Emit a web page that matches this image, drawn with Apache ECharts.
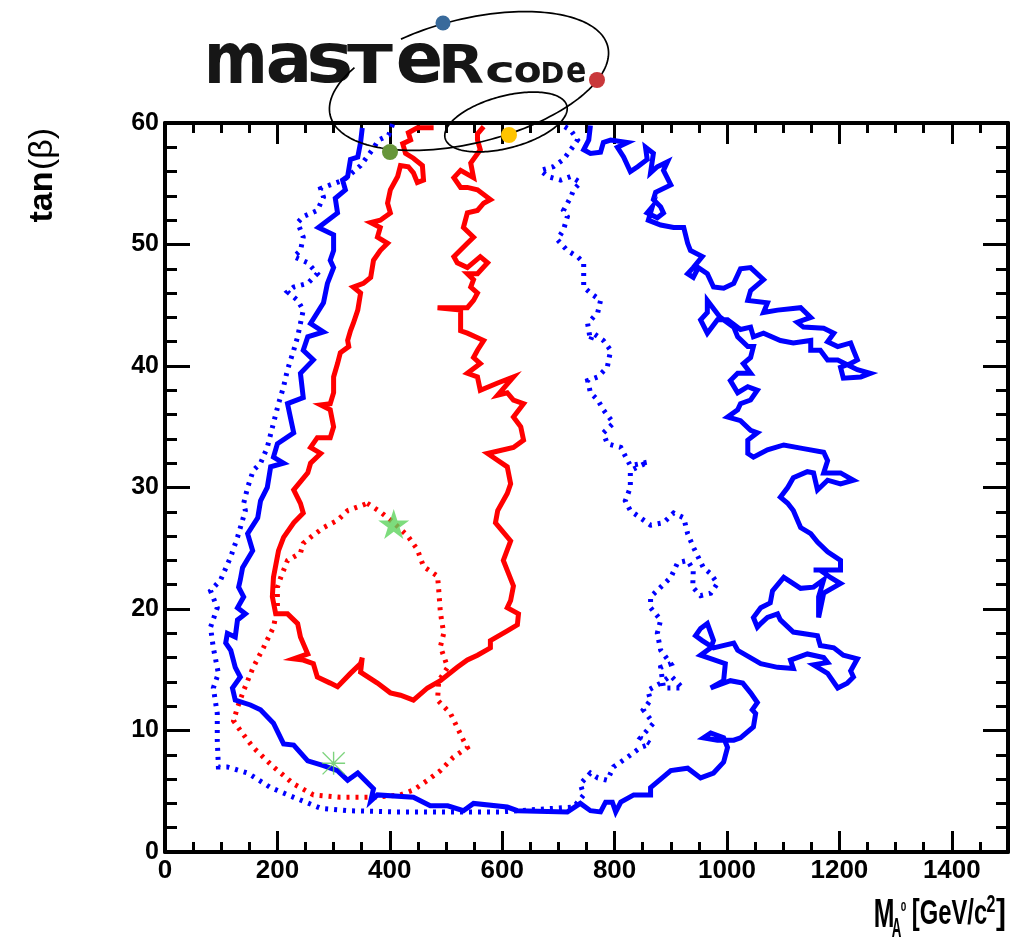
<!DOCTYPE html>
<html><head><meta charset="utf-8">
<script src="https://cdn.jsdelivr.net/npm/echarts/dist/echarts.min.js"></script>
<style>html,body{margin:0;padding:0;background:#fff}#chart{width:1025px;height:943px}</style>
</head><body><div id="chart"></div>
<script>
// ---------------- DATA (M_A [GeV], tan(beta)) ----------------
const blueDotted = [[405,59.9],[398,59.0],[380,58.6],[369,57.8],[348,56.5],[318,55.3],[294,54.9],[277,54.6],[282,53.9],[271,52.8],[246,52.3],[236,51.8],[246,50.6],[241,49.5],[229,49.0],[254,48.5],[271,47.6],[254,46.8],[229,46.5],[218,46.1],[236,45.4],[246,44.6],[241,43.5],[236,42.4],[229,41.3],[218,39.7],[211,38.3],[202,36.9],[193,35.3],[182,33.3],[170,32.0],[157,31.4],[147,30.0],[140,28.7],[143,28.1],[129,25.9],[117,24.3],[99,22.4],[81,21.5],[93,20.1],[81,18.5],[86,16.8],[95,14.7],[86,13.5],[93,11.4],[93,9.2],[95,7.0],[111,7.0],[147,6.5],[188,5.3],[229,4.5],[277,3.6],[325,3.4],[407,3.3],[503,3.3],[597,3.3],[727,3.7],[745,4.7],[739,5.6],[757,6.5],[770,6.1],[787,5.9],[798,7.0],[823,7.8],[846,8.6],[864,8.9],[846,9.4],[869,10.6],[851,11.7],[864,12.5],[859,13.3],[882,13.9],[900,14.5],[921,13.5],[887,13.5],[882,15.2],[900,15.5],[882,16.6],[876,18.0],[882,19.1],[864,20.1],[864,21.0],[882,21.8],[900,22.6],[912,23.8],[930,24.0],[940,23.2],[939,21.8],[953,21.1],[971,21.3],[983,22.1],[971,22.9],[958,23.4],[940,25.1],[930,26.2],[923,27.5],[905,27.9],[887,27.1],[864,26.9],[846,27.5],[828,28.1],[819,28.9],[828,30.0],[828,31.4],[860,32.1],[828,31.8],[811,33.3],[787,33.6],[780,34.5],[798,35.3],[780,36.4],[770,37.2],[757,37.8],[752,38.8],[770,39.1],[787,39.9],[793,41.3],[780,42.1],[762,42.7],[757,42.1],[752,43.5],[770,44.4],[775,45.4],[757,46.0],[745,46.5],[745,47.6],[745,48.5],[734,49.0],[716,49.5],[698,50.4],[709,51.2],[716,52.3],[709,52.8],[722,53.9],[727,54.5],[739,55.1],[722,55.6],[704,55.3],[681,55.6],[668,56.1],[691,56.4],[709,57.0],[722,57.8],[734,58.6],[722,59.4],[704,59.9]];

const redDotted = [[360,28.7],[383,28.0],[407,27.1],[432,26.0],[449,24.9],[460,23.5],[485,22.7],[487,21.6],[490,19.7],[496,18.0],[490,16.9],[503,15.2],[487,14.1],[485,12.5],[508,11.4],[531,9.2],[538,8.6],[513,7.8],[490,6.7],[467,5.9],[442,5.1],[419,4.7],[371,4.5],[312,4.5],[264,4.7],[229,5.6],[193,7.0],[157,8.6],[134,10.0],[122,10.8],[129,11.9],[140,13.3],[157,15.2],[175,16.8],[193,18.5],[200,20.1],[200,21.8],[206,22.6],[218,24.0],[241,24.6],[246,25.4],[259,25.9],[282,26.7],[307,27.3],[325,28.1],[343,28.4],[360,28.7]];

const blueSolid = [[351,59.6],[348,58.4],[343,57.2],[330,57.0],[325,55.6],[316,55.3],[321,54.5],[303,53.8],[307,52.6],[273,51.4],[300,50.8],[300,49.5],[294,48.7],[300,48.1],[289,46.8],[282,45.2],[259,43.5],[282,42.8],[254,42.4],[246,41.3],[264,40.5],[241,39.4],[246,37.4],[218,36.9],[223,35.8],[229,34.5],[200,33.6],[193,32.5],[211,32.0],[188,31.7],[182,30.0],[170,28.9],[165,27.5],[147,26.2],[156,24.8],[138,23.4],[134,22.4],[131,21.8],[140,21.0],[129,20.1],[143,19.6],[129,19.1],[125,17.7],[111,18.0],[108,17.2],[117,16.6],[125,15.2],[134,14.4],[120,13.5],[125,12.5],[152,12.1],[170,11.7],[193,10.6],[211,8.9],[229,8.8],[254,7.5],[282,7.1],[307,6.7],[325,5.9],[343,6.5],[371,5.2],[366,4.2],[378,4.7],[442,4.5],[472,3.8],[503,3.8],[531,3.4],[549,4.0],[609,3.7],[627,3.4],[716,3.3],[739,4.0],[757,3.4],[775,3.3],[784,4.1],[796,4.1],[802,3.3],[811,4.1],[834,4.7],[864,4.7],[864,5.3],[900,6.7],[930,6.9],[953,6.1],[976,6.5],[994,7.4],[1001,8.6],[994,9.4],[971,9.8],[958,9.4],[983,9.2],[1012,9.2],[1024,9.4],[1047,10.3],[1051,11.4],[1045,11.7],[1054,12.3],[1042,13.1],[1028,13.9],[1006,14.1],[971,13.5],[994,14.1],[997,15.5],[953,16.2],[971,16.8],[976,17.4],[965,18.8],[953,18.4],[944,17.8],[956,17.4],[976,16.8],[1012,17.2],[1019,16.6],[1060,15.5],[1090,15.2],[1118,15.1],[1113,15.8],[1143,16.3],[1172,16.0],[1179,15.6],[1154,15.4],[1179,14.7],[1197,13.5],[1214,13.9],[1225,14.4],[1220,14.9],[1232,15.9],[1207,16.2],[1190,16.8],[1166,17.0],[1161,17.8],[1118,18.1],[1095,19.1],[1090,19.6],[1072,19.3],[1060,18.8],[1054,18.5],[1047,19.3],[1060,20.1],[1077,20.5],[1081,21.5],[1101,22.6],[1131,21.7],[1154,21.8],[1172,22.4],[1163,21.0],[1163,19.3],[1172,21.3],[1202,22.1],[1184,22.6],[1166,23.2],[1154,23.2],[1202,23.2],[1202,24.0],[1179,24.7],[1161,25.5],[1149,26.2],[1131,26.7],[1118,28.1],[1108,28.7],[1095,29.2],[1108,30.0],[1118,30.8],[1143,31.3],[1154,31.2],[1161,29.8],[1179,30.6],[1202,30.3],[1225,30.6],[1202,31.2],[1172,31.2],[1179,32.2],[1172,32.9],[1136,33.2],[1101,33.5],[1072,33.1],[1047,32.5],[1037,32.8],[1037,33.9],[1054,34.5],[1042,34.7],[1024,35.5],[1001,35.8],[1019,36.4],[1024,36.9],[1042,37.2],[1054,38.0],[1037,38.3],[1019,37.8],[1006,38.8],[1019,39.4],[1042,39.4],[1029,40.2],[1042,40.7],[1047,41.6],[1037,41.6],[1019,42.4],[1012,43.2],[988,44.0],[965,45.4],[965,44.4],[953,43.8],[965,42.7],[983,43.8],[1001,43.8],[1024,43.0],[1042,43.2],[1047,42.4],[1065,42.7],[1095,42.1],[1118,41.9],[1149,42.1],[1149,41.3],[1166,41.3],[1179,40.5],[1197,40.5],[1232,39.7],[1255,39.4],[1238,39.1],[1207,39.0],[1202,39.9],[1220,40.2],[1232,40.5],[1225,41.3],[1220,41.9],[1197,41.6],[1179,42.0],[1190,42.7],[1172,43.1],[1136,43.2],[1125,43.6],[1149,44.0],[1131,44.8],[1090,44.6],[1065,44.4],[1072,45.2],[1037,45.4],[1042,46.2],[1065,47.1],[1042,48.1],[1024,48.0],[1012,46.8],[994,46.4],[976,46.5],[965,47.6],[949,48.1],[940,47.3],[930,47.6],[940,48.1],[956,49.0],[935,49.5],[930,50.1],[923,51.4],[905,51.4],[882,51.6],[860,52.0],[867,53.1],[858,52.6],[876,52.2],[887,52.6],[882,53.1],[869,53.7],[873,54.3],[900,54.9],[887,56.1],[894,56.8],[876,56.4],[864,55.9],[869,57.5],[855,58.0],[858,57.0],[841,56.4],[828,56.0],[816,57.2],[805,58.0],[823,58.4],[793,58.6],[780,58.4],[775,57.6],[757,57.5],[745,57.8],[754,58.6],[757,59.8]];

const redSolid = [[478,59.6],[449,59.6],[433,59.2],[437,58.6],[423,58.3],[428,57.5],[442,57.1],[458,56.5],[460,55.3],[449,55.1],[442,55.9],[433,56.4],[419,56.5],[414,55.6],[401,54.5],[396,53.4],[401,52.6],[383,52.0],[366,51.8],[383,51.4],[378,50.6],[396,50.1],[383,49.5],[371,48.7],[366,47.3],[353,46.8],[335,46.5],[348,46.0],[343,44.6],[335,43.5],[330,42.9],[325,42.1],[327,41.6],[312,41.1],[307,40.2],[300,39.1],[300,37.8],[294,36.9],[277,36.8],[294,36.4],[300,35.0],[294,34.1],[271,34.1],[259,33.3],[277,32.8],[259,32.0],[254,31.2],[229,29.8],[241,28.7],[246,27.9],[229,27.1],[211,25.9],[202,24.8],[193,22.6],[191,21.0],[197,19.6],[218,19.6],[236,18.8],[241,17.7],[254,16.3],[229,15.9],[246,15.8],[264,15.5],[271,14.4],[294,13.9],[307,13.6],[330,14.7],[348,15.5],[351,16.0],[348,14.8],[378,13.9],[401,13.1],[419,12.9],[442,12.5],[467,13.5],[490,14.1],[520,15.2],[538,15.8],[556,16.2],[579,16.8],[579,17.4],[609,18.2],[627,18.7],[629,19.6],[609,20.1],[615,20.7],[620,21.9],[602,24.0],[615,25.6],[588,27.1],[592,28.1],[609,29.5],[615,30.3],[609,31.7],[574,32.8],[620,33.3],[638,33.9],[633,35.0],[620,35.8],[638,36.9],[620,37.2],[609,37.8],[592,37.6],[620,39.1],[592,38.6],[561,38.0],[556,39.1],[538,39.4],[561,40.2],[549,40.7],[556,41.3],[567,42.1],[538,42.7],[526,42.9],[526,44.6],[485,44.8],[514,44.8],[538,44.8],[549,45.4],[556,46.0],[544,46.5],[549,47.1],[538,47.6],[556,47.6],[574,48.5],[561,49.0],[538,48.1],[520,48.5],[514,49.0],[538,50.1],[549,50.6],[531,51.4],[538,52.6],[556,52.8],[567,53.4],[579,53.7],[556,54.5],[538,54.7],[526,54.7],[514,55.5],[526,56.1],[549,55.5],[544,56.7],[561,57.8],[556,58.6],[556,59.1],[567,59.7]];

const bestFitPoint = [[407, 27.0]];
const secondPoint = [[300, 7.3]];

const xMajorStep = 200, xMinorStep = 50;
const yMajorStep = 10;

// ---------------- CHART ----------------
const chart = echarts.init(document.getElementById('chart'), null, {renderer: 'canvas'});
const BLK = '#000';
const FONT = 'Liberation Sans';

function xAx(pos, step, len, showLine, showLabel) {
  return {
    type: 'value', position: pos, min: 0, max: 1500, interval: step,
    axisLine: {show: showLine, onZero: false, lineStyle: {color: BLK, width: 4}},
    axisTick: {show: true, inside: true, length: len, lineStyle: {color: BLK, width: 3}},
    axisLabel: {show: showLabel, margin: 6, color: BLK, fontFamily: FONT, fontWeight: 'bold', fontSize: 26,
      formatter: v => (v % xMajorStep === 0 ? String(v) : '')},
    splitLine: {show: false}
  };
}
function yAx(pos, showLabel) {
  return {
    type: 'value', position: pos, min: 0, max: 60, interval: yMajorStep,
    axisLine: {show: true, onZero: false, lineStyle: {color: BLK, width: 4}},
    axisTick: {show: true, inside: true, length: 25, lineStyle: {color: BLK, width: 3}},
    minorTick: {show: true, splitNumber: 5, length: 12, lineStyle: {color: BLK, width: 3}},
    axisLabel: {show: showLabel, margin: 6, color: BLK, fontFamily: FONT, fontWeight: 'bold', fontSize: 25},
    splitLine: {show: false}, minorSplitLine: {show: false}
  };
}

// ---- decoration helpers (logo & titles) ----
const mctx = document.createElement('canvas').getContext('2d');
function fitText(txt, font, box, fill) {
  mctx.font = font; mctx.textAlign = 'left'; mctx.textBaseline = 'middle';
  const m = mctx.measureText(txt);
  const L = m.actualBoundingBoxLeft, R = m.actualBoundingBoxRight;
  const A = m.actualBoundingBoxAscent, D = m.actualBoundingBoxDescent;
  const sx = (box[1] - box[0]) / (L + R), sy = (box[3] - box[2]) / (A + D);
  return {type: 'text', x: box[0] + L * sx, y: box[2] + A * sy, scaleX: sx, scaleY: sy, z: 100, silent: true,
    style: {text: txt, x: 0, y: 0, font: font, fill: fill, align: 'left', verticalAlign: 'middle',
      textAlign: 'left', textVerticalAlign: 'middle'}};
}
function ellipsePts(cx, cy, a, b, rotDeg, t0, t1) {
  const th = rotDeg * Math.PI / 180;
  const ux = Math.cos(th), uy = -Math.sin(th), vx = Math.sin(th), vy = Math.cos(th);
  const pts = [];
  for (let t = t0; t <= t1 + 0.001; t += 2) {
    const r = t * Math.PI / 180, c = Math.cos(r) * a, s = Math.sin(r) * b;
    pts.push([cx + c * ux + s * vx, cy + c * uy + s * vy]);
  }
  return pts;
}

const logoFont = 'bold 60px "DejaVu Sans"';
const logoGlyphs = [
  ['m', [208, 263, 43, 83]], ['a', [268, 307, 43, 83]], ['s', [310, 350, 43, 83]],
  ['T', [347, 393, 43, 83]], ['e', [398, 440, 43, 83]], ['R', [443, 483, 43, 83]],
  ['c', [487, 512, 62, 83]], ['o', [515, 540, 62, 83]], ['D', [543, 563, 62, 83]], ['e', [567, 585, 62, 83]]
];
const titleFont = 'bold 40px "Liberation Sans"';
const xTitleParts = [
  ['M', [875, 893, 898, 927]], ['A', [892, 901, 917, 937]], ['0', [901, 906, 902, 911]],
  ['[GeV/c', [913, 987, 897, 931]], ['2', [987, 995, 895, 912]], [']', [996, 1005, 897, 931]]
];

const graphics = [];
logoGlyphs.forEach(g => graphics.push(fitText(g[0], logoFont, g[1], '#161616')));
graphics.push({type: 'polyline', z: 101, silent: true, shape: {points: ellipsePts(469, 81, 143, 62, 14, 247, 582)},
  style: {stroke: '#000', lineWidth: 1.7, fill: 'none'}});
graphics.push({type: 'polyline', z: 101, silent: true, shape: {points: ellipsePts(506, 122, 63, 26, 15, 0, 360)},
  style: {stroke: '#000', lineWidth: 1.7, fill: 'none'}});
[[443, 23, 7.5, '#386a9b'], [597, 80, 8, '#c9383a'], [390, 152, 8, '#67963a'], [509, 135, 8, '#ffc400']].forEach(d =>
  graphics.push({type: 'circle', z: 102, silent: true, shape: {cx: d[0], cy: d[1], r: d[2]}, style: {fill: d[3]}}));
xTitleParts.forEach(p => graphics.push(fitText(p[0], titleFont, p[1], '#000')));
graphics.push({type: 'text', x: 43, y: 197, rotation: Math.PI / 2, z: 100, silent: true,
  style: {text: 'tan', font: 'bold 34px "Liberation Sans"', fill: '#000', align: 'center', verticalAlign: 'middle',
    textAlign: 'center', textVerticalAlign: 'middle'}});
graphics.push({type: 'text', x: 43, y: 149, rotation: Math.PI / 2, z: 100, silent: true,
  style: {text: '(β)', font: '34px "Liberation Sans"', fill: '#000', align: 'center', verticalAlign: 'middle',
    textAlign: 'center', textVerticalAlign: 'middle'}});

function contour(name, data, color, width, dashed, z) {
  return {type: 'line', name: name, data: data, xAxisIndex: 0, yAxisIndex: 0, showSymbol: false, symbol: 'none',
    silent: true, z: z, lineStyle: {color: color, width: width, type: dashed ? [3, 6] : 'solid', join: 'miter', miterLimit: 6}};
}

const option = {
  animation: false,
  backgroundColor: '#fff',
  grid: {left: 165, top: 123, width: 843, height: 729, containLabel: false},
  xAxis: [xAx('bottom', xMajorStep, 21, true, true), xAx('bottom', xMinorStep, 10, false, false),
          xAx('top', xMajorStep, 21, true, false), xAx('top', xMinorStep, 10, false, false)],
  yAxis: [yAx('left', true), yAx('right', false)],
  series: [
    contour('95% CL (dotted)', blueDotted, '#0000ff', 5, true, 3),
    contour('68% CL (dotted)', redDotted, '#ff0000', 5, true, 3),
    contour('95% CL', blueSolid, '#0000ff', 5, false, 4),
    contour('68% CL', redSolid, '#ff0000', 5, false, 4),
    {type: 'scatter', name: 'best fit', data: bestFitPoint, xAxisIndex: 0, yAxisIndex: 0, z: 6, silent: true,
      symbol: 'path://M50,0L61.2,34.5L97.6,34.5L68.2,55.9L79.4,90.5L50,69.1L20.6,90.5L31.8,55.9L2.4,34.5L38.8,34.5Z',
      symbolSize: [31, 30], itemStyle: {color: '#5dd35d'}},
    {type: 'scatter', name: 'other fit', data: secondPoint, xAxisIndex: 0, yAxisIndex: 0, z: 6, silent: true,
      symbol: 'path://M0,47L100,47L100,53L0,53Z M47,0L53,0L53,100L47,100Z M4,0L100,96L96,100L0,4Z M96,0L100,4L4,100L0,96Z',
      symbolSize: 23, itemStyle: {color: '#5cc85c'}}
  ],
  graphic: {elements: graphics}
};
chart.setOption(option);
</script></body></html>
